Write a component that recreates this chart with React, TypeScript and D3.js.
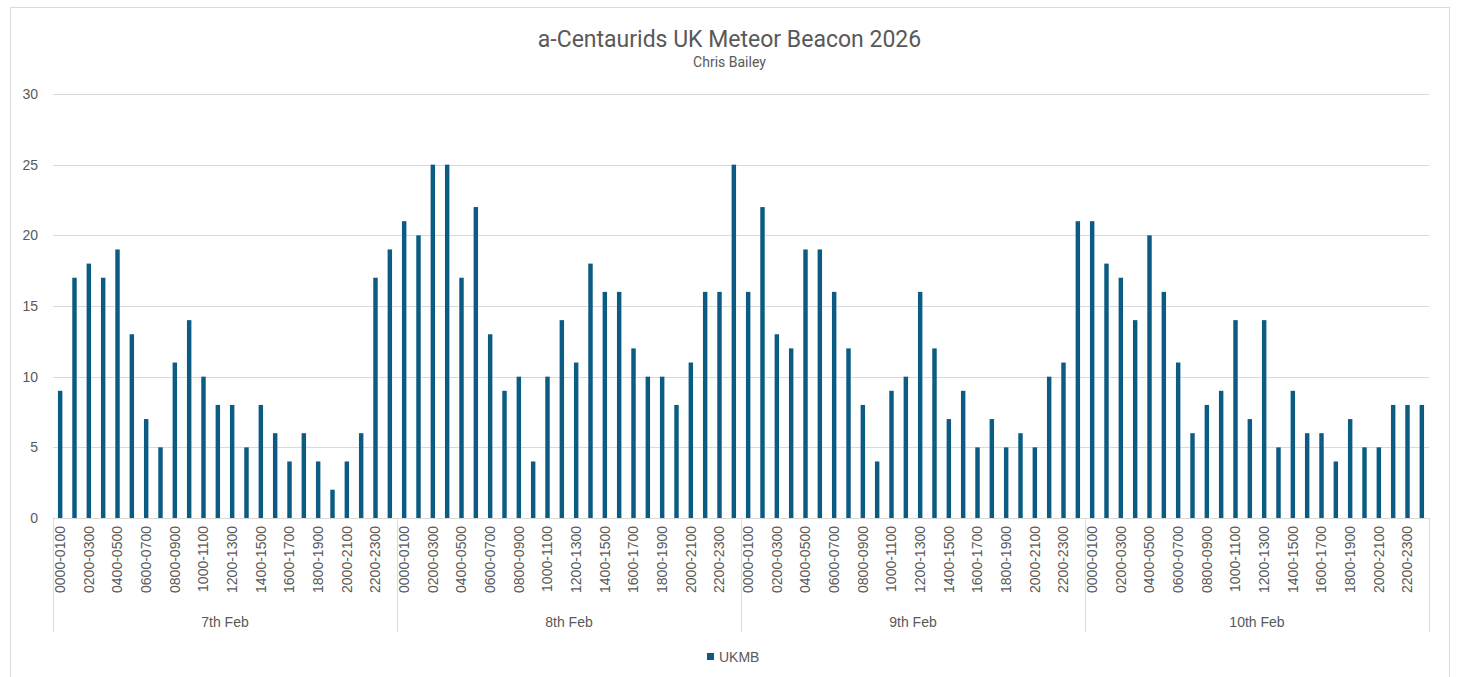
import React from "react";
import * as d3 from "d3";

const title = "a-Centaurids UK Meteor Beacon 2026";
const subtitle = "Chris Bailey";
const seriesName = "UKMB";

const days = ["7th Feb", "8th Feb", "9th Feb", "10th Feb"];
const hours = [
  "0000-0100", "0100-0200", "0200-0300", "0300-0400", "0400-0500", "0500-0600",
  "0600-0700", "0700-0800", "0800-0900", "0900-1000", "1000-1100", "1100-1200",
  "1200-1300", "1300-1400", "1400-1500", "1500-1600", "1600-1700", "1700-1800",
  "1800-1900", "1900-2000", "2000-2100", "2100-2200", "2200-2300", "2300-0000",
];

const feb7 = [9, 17, 18, 17, 19, 13, 7, 5, 11, 14, 10, 8, 8, 5, 8, 6, 4, 6, 4, 2, 4, 6, 17, 19];
const feb8 = [21, 20, 25, 25, 17, 22, 13, 9, 10, 4, 10, 14, 11, 18, 16, 16, 12, 10, 10, 8, 11, 16, 16, 25];
const feb9 = [16, 22, 13, 12, 19, 19, 16, 12, 8, 4, 9, 10, 16, 12, 7, 9, 5, 7, 5, 6, 5, 10, 11, 21];
const feb10 = [21, 18, 17, 14, 20, 16, 11, 6, 8, 9, 14, 7, 14, 5, 9, 6, 6, 4, 7, 5, 5, 8, 8, 8];

const yTicks = [0, 5, 10, 15, 20, 25, 30];

const W = 1458;
const H = 677;
const plotLeft = 53;
const plotRight = 1429;
const plotTop = 94;
const plotBottom = 518;
const sepBottom = 632;
const barColor = "#0B5B82";
const textColor = "#595959";
const gridColor = "#D9D9D9";
const font = "'Liberation Sans', Arial, sans-serif";

export default function App() {
  const dayValues = [feb7, feb8, feb9, feb10];
  const rows = days.flatMap((day, di) =>
    hours.map((h, hi) => ({ key: `${day}|${h}`, day, hour: h, hi, value: dayValues[di][hi] }))
  );

  const x = d3
    .scaleBand<string>()
    .domain(rows.map((r) => r.key))
    .range([plotLeft, plotRight])
    .paddingInner(0.69)
    .paddingOuter(0.345);
  const y = d3.scaleLinear().domain([0, 30]).range([plotBottom, plotTop]);
  const dayScale = d3.scaleBand<string>().domain(days).range([plotLeft, plotRight]);

  const bw = x.bandwidth();

  return (
    <svg
      width={W}
      height={H}
      style={{ position: "absolute", left: 0, top: 0, background: "#fff" }}
      fontFamily={font}
    >
      <rect x={10.5} y={7.5} width={1439} height={700} fill="#fff" stroke={gridColor} strokeWidth={1} />

      <text x={729.5} y={47} textAnchor="middle" fontSize={23} fill={textColor} fontFamily="Roboto, sans-serif">
        {title}
      </text>
      <text x={729.5} y={67} textAnchor="middle" fontSize={14} fill={textColor} fontFamily="Roboto, sans-serif">
        {subtitle}
      </text>

      {yTicks.map((t) => (
        <g key={t}>
          {t > 0 && (
            <line x1={plotLeft} x2={plotRight} y1={Math.round(y(t)) + 0.5} y2={Math.round(y(t)) + 0.5} stroke={gridColor} strokeWidth={1} />
          )}
          <text x={38} y={y(t)} dy="0.35em" textAnchor="end" fontSize={14} fill={textColor}>
            {t}
          </text>
        </g>
      ))}

      {rows.map((r) => (
        <rect key={r.key} x={x(r.key)} y={y(r.value)} width={bw} height={y(0) - y(r.value)} fill={barColor} />
      ))}

      <line x1={plotLeft} x2={plotRight} y1={plotBottom + 0.5} y2={plotBottom + 0.5} stroke={gridColor} strokeWidth={1} />

      {days.map((d, i) => (
        <line
          key={"sep" + d}
          x1={Math.round(dayScale(d)!) + 0.5}
          x2={Math.round(dayScale(d)!) + 0.5}
          y1={plotBottom}
          y2={sepBottom}
          stroke={gridColor}
          strokeWidth={1}
        />
      ))}
      <line x1={plotRight + 0.5} x2={plotRight + 0.5} y1={plotBottom} y2={sepBottom} stroke={gridColor} strokeWidth={1} />

      {rows
        .filter((r) => r.hi % 2 === 0)
        .map((r) => {
          const cx = x(r.key)! + bw / 2;
          return (
            <text
              key={"lbl" + r.key}
              transform={`translate(${cx},526) rotate(-90)`}
              textAnchor="end"
              dy="0.35em"
              fontSize={14}
              fill={textColor}
            >
              {r.hour}
            </text>
          );
        })}

      {days.map((d) => (
        <text
          key={"day" + d}
          x={dayScale(d)! + dayScale.bandwidth() / 2}
          y={622}
          dy="0.35em"
          textAnchor="middle"
          fontSize={14}
          fill={textColor}
        >
          {d}
        </text>
      ))}

      <rect x={707} y={653} width={7} height={7} fill={barColor} />
      <text x={719} y={657} dy="0.35em" fontSize={14} fill={textColor}>
        {seriesName}
      </text>
    </svg>
  );
}
